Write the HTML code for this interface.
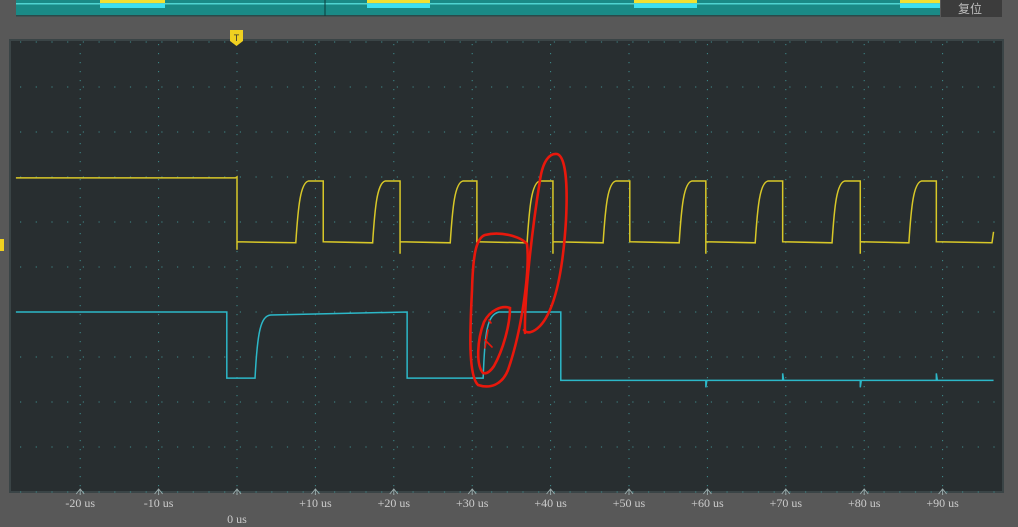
<!DOCTYPE html>
<html><head><meta charset="utf-8"><style>
html,body{margin:0;padding:0;background:#585858;width:1018px;height:527px;overflow:hidden;font-family:"Liberation Serif","Noto Serif CJK SC",serif}
svg{position:absolute;left:0;top:0}
</style></head><body>
<svg width="1018" height="527">
<rect x="0" y="0" width="1018" height="527" fill="#585858"/>
<g>
<rect x="16" y="0" width="924" height="16" fill="#1a8a86"/>
<rect x="16" y="3" width="924" height="1.5" fill="#4fd3d0"/>
<rect x="16" y="15" width="924" height="1.5" fill="#2a4a4a"/>
<line x1="325" y1="0" x2="325" y2="16" stroke="#0c3a3a"/>
<rect x="100" y="0" width="65" height="3" fill="#f2e030"/><rect x="100" y="4" width="65" height="4" fill="#3de0f0"/>
<rect x="367" y="0" width="63" height="3" fill="#f2e030"/><rect x="367" y="4" width="63" height="4" fill="#3de0f0"/>
<rect x="634" y="0" width="63" height="3" fill="#f2e030"/><rect x="634" y="4" width="63" height="4" fill="#3de0f0"/>
<rect x="900" y="0" width="40" height="3" fill="#f2e030"/><rect x="900" y="4" width="40" height="4" fill="#3de0f0"/>
</g>
<g>
<rect x="941" y="0" width="61" height="17" fill="#3c3c3c"/>
<text x="970" y="13" font-size="12" fill="#bbb" text-anchor="middle" font-family="Noto Sans CJK SC,sans-serif">复位</text>
</g>
<rect x="10" y="40" width="993" height="452" fill="#282e30" stroke="#3a4446" stroke-width="2"/>
<g id="grid"></g>
<g id="xaxis"></g>
<g>
<path d="M230,30 h13 v11 l-6.5,5 l-6.5,-5z" fill="#f0d020"/>
<text x="236.5" y="41" font-size="9" fill="#333" text-anchor="middle" font-family="Liberation Sans,sans-serif">T</text>
</g>
<path d="M0,239 h4 v12 h-4z" fill="#f0d020"/>
<path id="yellow" fill="none" stroke="#d8c828" stroke-width="1.5"/>
<path id="cyan" fill="none" stroke="#2cb8c8" stroke-width="1.5"/>
<g fill="none" stroke="#e8180c" stroke-width="2.6" stroke-linecap="round">
<path d="M485,235 C500,231 520,236 527,244 C530,270 522,330 508,370 C502,385 490,389 478,385 C468,375 470,330 472,290 C473,255 476,238 485,235"/>
<path d="M525,333 C524,300 532,230 540,180 C543,160 550,153 557,154 C565,156 568,180 566,220 C563,270 555,310 540,326 C533,333 527,334 524,330"/>
<path d="M483,373 C476,365 477,340 484,322 C490,310 502,305 510,308 C510,325 503,350 494,366 C490,372 486,374 483,373"/>
<path d="M488,330 L485,348 M485,340 L492,347 M489,320 L491,323" stroke-width="1.6"/>
</g>
</svg>
<script>
// time axis (us)
const xTicks = [-20,-10,0,10,20,30,40,50,60,70,80,90];
const xLabels = ["-20 us","-10 us","0 us","+10 us","+20 us","+30 us","+40 us","+50 us","+60 us","+70 us","+80 us","+90 us"];
// channel 1 (yellow): pulse rise / fall times (us), levels in divisions
const ch1Rise = [7.5,17.3,27.2,37.0,46.7,56.4,66.1,75.9,85.7];
const ch1Fall = [0,11.0,20.8,30.6,40.3,50.1,59.8,69.6,79.5,89.2];
const ch1Levels = [2.98, 2.91, 1.56]; // pre-trigger, high, low
// channel 2 (cyan): edges (us) and levels
const ch2Edges = [-1.3,2.3,21.7,31.4,41.3];
const ch2Levels = [0, -1.47, -1.52]; // high, low, final low
const ch2Glitch = [59.8,69.6,79.5,89.2];
const ch2GlitchDir = [1,-1,1,-1];

const X0=237, PX=7.84, Y0=312, PY=45;
const xs = t => X0 + t*PX;
const ys = v => Y0 - v*PY;
const tMin=-28.2, tMax=96.5;
const NS="http://www.w3.org/2000/svg";
function mk(tag, attrs, parent){const e=document.createElementNS(NS,tag);for(const k in attrs)e.setAttribute(k,attrs[k]);parent.appendChild(e);return e;}

// grid
const g=document.getElementById('grid');
for(let k=-3;k<=10;k++){const x=X0+k*78.4; if(x<12||x>1001)continue;
  for(let y=44;y<=490;y+=9){mk('rect',{x:x-0.5,y:y,width:1,height:1.2,fill:'#3f8a8c'},g);}
}
for(let y=42;y<=492;y+=45){
  for(let x=20;x<1000;x+=15.7){mk('rect',{x:x,y:y-0.5,width:1.2,height:1,fill:'#3f8a8c'},g);}
}
// x axis
const xa=document.getElementById('xaxis');
xTicks.forEach((t,i)=>{
  const x=xs(t);
  const a=mk('path',{d:`M${x-4},494 L${x},489 L${x+4},494 M${x},489 V495`,stroke:'#9aa',fill:'none','stroke-width':1},xa);
  
  
  const tx=mk('text',{x:x,y:t===0?523:507,'font-size':12,fill:'#ccc','text-anchor':'middle'},xa);
  tx.textContent=xLabels[i];
  
  
});

// yellow trace
let d=`M${xs(tMin)},${ys(ch1Levels[0])} L${xs(-0.2)},${ys(ch1Levels[0])} L${xs(0)},${ys(ch1Levels[0])-1}`;
const hi=ys(ch1Levels[1]), lo=ys(ch1Levels[2]);
d+=` L${xs(0)},${lo+8} L${xs(0)},${lo}`;
for(let i=0;i<ch1Rise.length;i++){
  const r=ch1Rise[i], f=ch1Fall[i+1];
  d+=` L${xs(r)},${lo+1}`;
  d+=` C${xs(r+0.3)},${hi+25} ${xs(r+0.6)},${hi+2} ${xs(r+1.6)},${hi}`;
  d+=` L${xs(f)},${hi} L${xs(f)},${lo+(i%2?12:0)} L${xs(f)},${lo}`;
}
d+=` L${xs(tMax-0.2)},${lo+1} L${xs(tMax)},${lo-10}`;
document.getElementById('yellow').setAttribute('d',d);

// cyan trace
const chi=ys(ch2Levels[0]), clo=ys(ch2Levels[1]), cfl=ys(ch2Levels[2]);
let c=`M${xs(tMin)},${chi} L${xs(ch2Edges[0])},${chi} L${xs(ch2Edges[0])},${clo}`;
c+=` L${xs(ch2Edges[1])},${clo} C${xs(ch2Edges[1]+0.3)},${chi+20} ${xs(ch2Edges[1]+0.7)},${chi+4} ${xs(ch2Edges[1]+2)},${chi+3} L${xs(ch2Edges[2])},${chi}`;
c+=` L${xs(ch2Edges[2])},${clo} L${xs(ch2Edges[3])},${clo} C${xs(ch2Edges[3]+0.2)},${chi+20} ${xs(ch2Edges[3]+0.5)},${chi+3} ${xs(ch2Edges[3]+2)},${chi} L${xs(ch2Edges[4])},${chi} L${xs(ch2Edges[4])},${cfl}`;
ch2Glitch.forEach((t,i)=>{c+=` L${xs(t)},${cfl} L${xs(t)},${cfl+ch2GlitchDir[i]*7} L${xs(t)+1},${cfl}`;});
c+=` L${xs(tMax)},${cfl}`;
document.getElementById('cyan').setAttribute('d',c);
</script>
</body></html>
